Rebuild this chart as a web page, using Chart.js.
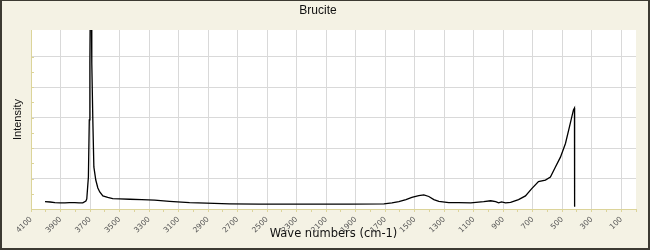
<!DOCTYPE html>
<html>
<head>
<meta charset="utf-8">
<script src="https://cdn.jsdelivr.net/npm/chart.js@4.4.1/dist/chart.umd.min.js"></script>
<style>
  html, body { margin: 0; padding: 0; background: #f4f2e4; }
  #wrap { width: 650px; height: 250px; position: relative; }
</style>
</head>
<body>
<div id="wrap"><canvas id="c" width="650" height="250"></canvas></div>
<script>
// Raman spectrum of Brucite
const chartTitle = 'Brucite';
const xTitle = 'Wave numbers (cm-1)';
const yTitle = 'Intensity';
const waveNumbers = [
  4005, 3970, 3938, 3900, 3870, 3840, 3803, 3775, 3749, 3728, 3722, 3715, 3711, 3705, 3701, 3697, 3693,
  3688, 3681, 3674, 3661, 3647, 3634, 3613, 3580, 3546, 3500, 3431, 3350, 3262, 3161, 3026, 2911,
  2755, 2553, 2350, 2147, 1945, 1708, 1654, 1607, 1559, 1519, 1472, 1438, 1404, 1370, 1336,
  1269, 1201, 1120, 1032, 985, 951, 931, 911, 884, 850, 796, 749, 708, 661, 614, 580,
  546, 512, 478, 451, 424, 417, 416
];
const intensity = [
  0.24, 0.23, 0.21, 0.20, 0.20, 0.21, 0.21, 0.20, 0.20, 0.26, 0.33, 0.79, 1.05, 2.92, 4.79, 7.6, 7.6,
  4.79, 2.92, 1.38, 0.95, 0.69, 0.56, 0.43, 0.38, 0.34, 0.33, 0.32, 0.31, 0.29, 0.25, 0.21, 0.19,
  0.17, 0.16, 0.16, 0.16, 0.16, 0.17, 0.20, 0.24, 0.31, 0.38, 0.44, 0.46, 0.41, 0.31, 0.25,
  0.21, 0.21, 0.20, 0.24, 0.27, 0.24, 0.20, 0.23, 0.20, 0.22, 0.31, 0.43, 0.66, 0.90, 0.95, 1.05,
  1.38, 1.70, 2.15, 2.69, 3.25, 3.31, 0.07
];
const xMin = 0, xMax = 4100, xStep = 100;
const yMin = 0, yMax = 5.87, yStep = 0.5;

const points = waveNumbers.map((w, i) => ({ x: w, y: intensity[i] }));

const frame = {
  id: 'frame',
  beforeDraw(chart) {
    const { ctx, chartArea: a, width, height } = chart;
    ctx.save();
    ctx.fillStyle = '#f4f2e4';
    ctx.fillRect(0, 0, width, height);
    ctx.fillStyle = '#ffffff';
    ctx.fillRect(a.left, a.top, a.right - a.left, a.bottom - a.top);
    ctx.restore();
  },
  afterDraw(chart) {
    const { ctx, chartArea: a, width, height } = chart;
    const ys = chart.scales.y;
    ctx.save();
    ctx.strokeStyle = '#dcd49a';
    ctx.lineWidth = 1;
    ys.ticks.forEach(t => {
      if (Math.abs(t.value / yStep - Math.round(t.value / yStep)) > 1e-6) return;
      const py = Math.round(ys.getPixelForValue(t.value)) + 0.5;
      ctx.beginPath();
      ctx.moveTo(a.left, py);
      ctx.lineTo(a.left + 3, py);
      ctx.stroke();
    });
    ctx.fillStyle = '#3c3a32';
    ctx.fillRect(0, 0, width, 1);
    ctx.fillRect(0, 0, 2, height);
    ctx.fillRect(width - 2, 0, 2, height);
    ctx.fillRect(0, height - 2, width, 2);
    ctx.restore();
  }
};

const isMajorX = v => Math.round(v / xStep) % 2 === 1;

new Chart(document.getElementById('c'), {
  type: 'line',
  data: {
    datasets: [{
      data: points,
      borderColor: '#000000',
      borderWidth: 1.3,
      pointRadius: 0,
      tension: 0,
      fill: false
    }]
  },
  options: {
    responsive: false,
    animation: false,
    events: [],
    layout: { padding: { left: 0, right: 14, top: 0, bottom: 0 } },
    plugins: {
      legend: { display: false },
      tooltip: { enabled: false },
      title: {
        display: true,
        text: chartTitle,
        color: '#111111',
        font: { family: 'Liberation Sans, Arial, sans-serif', size: 12, weight: 'normal', lineHeight: 1.2 },
        padding: { top: 3, bottom: 12.6 }
      }
    },
    scales: {
      x: {
        type: 'linear',
        reverse: true,
        min: xMin,
        max: xMax,
        afterFit: s => { s.height = 41; },
        ticks: {
          stepSize: xStep,
          autoSkip: false,
          maxRotation: 45,
          minRotation: 45,
          padding: 3,
          color: '#555555',
          font: { family: 'DejaVu Sans, Verdana, sans-serif', size: 7.5 },
          callback: v => isMajorX(v) ? String(v) : ''
        },
        grid: {
          color: c => (c.tick && isMajorX(c.tick.value)) ? '#d9d9d9' : 'rgba(0,0,0,0)',
          tickColor: '#dcd49a',
          tickLength: 3,
          drawTicks: true
        },
        border: { display: true, color: '#dcd49a', width: 1 },
        title: {
          display: true,
          text: xTitle,
          color: '#111111',
          font: { family: 'DejaVu Sans, Verdana, sans-serif', size: 11.5 },
          padding: { top: 0, bottom: 9 }
        }
      },
      y: {
        type: 'linear',
        min: yMin,
        max: yMax,
        afterFit: s => { s.width = 31; },
        ticks: { display: false, stepSize: yStep },
        grid: {
          color: c => (c.tick && Math.abs(c.tick.value - Math.round(c.tick.value)) < 1e-6) ? '#d9d9d9' : 'rgba(0,0,0,0)',
          drawTicks: false
        },
        border: { display: true, color: '#dcd49a', width: 1 },
        title: {
          display: true,
          text: yTitle,
          color: '#111111',
          font: { family: 'Liberation Sans, Arial, sans-serif', size: 11 },
          padding: { top: 11, bottom: 0 }
        }
      }
    }
  },
  plugins: [frame]
});
</script>
</body>
</html>
